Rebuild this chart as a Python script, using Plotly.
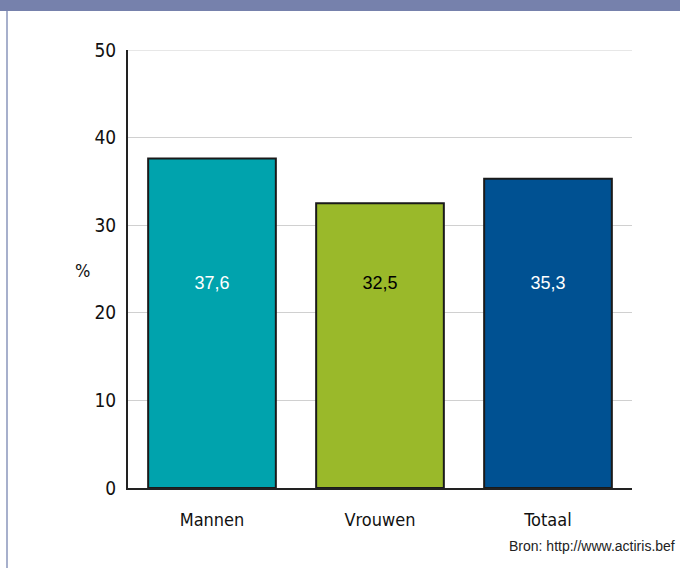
import plotly.graph_objects as go

# data
categories = ["Mannen", "Vrouwen", "Totaal"]
values = [37.6, 32.5, 35.3]
labels = ["37,6", "32,5", "35,3"]
colors = ["#00A3AD", "#9AB92A", "#005192"]
label_colors = ["white", "black", "white"]
y_ticks = [0, 10, 20, 30, 40, 50]
label_level = 23.2  # all value labels sit at the same height

W, H = 680, 568
L, R, T, B = 128, 48, 50, 80
pw, ph = W - L - R, H - T - B


def px_x(x):
    return (x - L) / pw


def px_y(y):
    return (H - B - y) / ph


fig = go.Figure()
fig.add_trace(go.Bar(
    x=categories, y=values,
    marker=dict(color=colors, line=dict(color="#1a1a1a", width=2)),
    width=0.76,
    hoverinfo="skip",
))
fig.add_trace(go.Scatter(
    x=categories, y=[label_level] * len(categories),
    mode="text", text=labels,
    textfont=dict(family="Liberation Sans, Arial", size=18, color=label_colors),
    hoverinfo="skip",
))

fig.update_layout(
    width=W, height=H,
    margin=dict(l=L, r=R, t=T, b=B),
    plot_bgcolor="white", paper_bgcolor="white",
    showlegend=False,
    font=dict(family="DejaVu Sans Condensed, Liberation Sans Narrow, Arial", color="#111"),
    xaxis=dict(showline=True, linecolor="#222", linewidth=2, ticks="",
               tickfont=dict(size=18), ticklabelstandoff=14, fixedrange=True),
    yaxis=dict(range=[0, 50], tickvals=y_ticks, showline=True, linecolor="#222",
               linewidth=2, showgrid=True, gridcolor="#d0d0d0", gridwidth=1,
               tickfont=dict(size=19), ticks="", ticklen=0, zeroline=False,
               ticklabelstandoff=6),
    shapes=[
        dict(type="rect", xref="paper", yref="paper",
             x0=px_x(0), x1=px_x(W), y0=px_y(11), y1=px_y(0),
             fillcolor="#7681AC", line=dict(width=0)),
        dict(type="line", xref="paper", yref="paper",
             x0=px_x(7), x1=px_x(7), y0=px_y(11), y1=px_y(H),
             line=dict(color="#A7B0CC", width=2)),
        # top grid line at 50
        dict(type="line", xref="paper", yref="y", x0=0, x1=1, y0=50, y1=50,
             line=dict(color="#d0d0d0", width=1), layer="below"),
    ],
    annotations=[
        dict(text="%", xref="paper", yref="paper", x=px_x(73), y=px_y(270),
             showarrow=False, font=dict(size=18)),
        dict(text="Bron: http://www.actiris.bef", xref="paper", yref="paper",
             x=px_x(677), y=px_y(556), xanchor="right", showarrow=False,
             font=dict(family="Liberation Sans, Arial", size=14, color="#222")),
    ],
)

fig.write_html("out.html", config={"displayModeBar": False},
               post_script="document.body.style.margin='0';document.body.style.overflow='hidden';")
